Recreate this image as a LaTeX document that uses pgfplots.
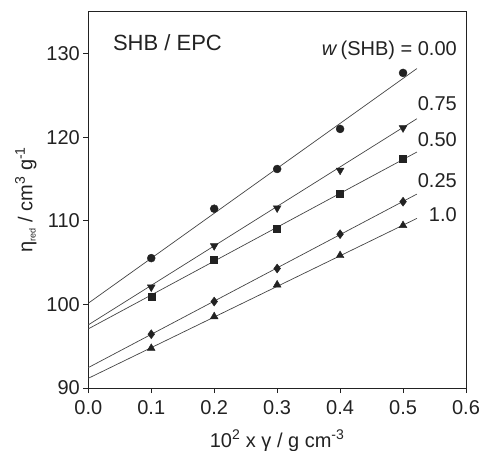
\documentclass[border=0pt]{standalone}
\usepackage{fontspec}
\setmainfont{Liberation Sans}
\usepackage{pgfplots}
\pgfplotsset{compat=1.18}
\definecolor{ink}{HTML}{222222}
\definecolor{fitline}{HTML}{444444}
\begin{document}
\begin{tikzpicture}
  \path[use as bounding box] (-88.3pt,-62pt) rectangle (393.7pt,388pt);
  \begin{axis}[
    at={(0pt,0pt)}, anchor=south west,
    scale only axis,
    width=377.7pt, height=376.3pt,
    xmin=0, xmax=0.6, ymin=90, ymax=135,
    xtick={0,0.1,...,0.6},
    ytick={90,100,...,130},
    xtick pos=left, ytick pos=left,
    tick align=outside,
    major tick length=5pt,
    axis line style={ink, line width=0.8pt},
    tick style={ink, line width=0.8pt},
    xticklabel style={yshift=-4pt, /pgf/number format/.cd, fixed, fixed zerofill, precision=1},
    yticklabel style={/pgf/number format/.cd, fixed},
    /pgf/number format/assume math mode=true,
    tick label style={font=\fontsize{20}{24}\selectfont, text=ink},
    xlabel={10\textsuperscript{2} x γ / g cm\textsuperscript{-3}},
    ylabel={η\textsubscript{\fontsize{9}{10}\selectfont red} / cm\textsuperscript{3} g\textsuperscript{-1}},
    label style={font=\fontsize{20}{24}\selectfont, text=ink},
    xlabel style={at={(axis description cs:0.5,-0.157)}, anchor=base},
    ylabel style={at={(axis description cs:-0.148,0.5)}, anchor=base, rotate=0},
    clip=false,
  ]
    % fitted lines
    \addplot[fitline, line width=0.7pt] coordinates {(0,100.14) (0.522,128.2)};
    \addplot[fitline, line width=0.7pt] coordinates {(0,97.55) (0.522,122.2)};
    \addplot[fitline, line width=0.7pt] coordinates {(0,97.07) (0.522,118.22)};
    \addplot[fitline, line width=0.7pt] coordinates {(0,92.44) (0.522,113.19)};
    \addplot[fitline, line width=0.7pt] coordinates {(0,91.16) (0.522,110.28)};
    % measured points
    \addplot[only marks, mark=*, mark size=4pt, ink] coordinates {
      (0.1,105.53) (0.2,111.44) (0.3,116.19) (0.4,120.98) (0.5,127.68)};
    \addplot[only marks, mark=triangle*, mark size=4.5pt, ink, mark options={rotate=180}] coordinates {
      (0.1,102.06) (0.2,107.0) (0.3,111.52) (0.4,116.03) (0.5,121.1)};
    \addplot[only marks, mark=square*, mark size=3.5pt, ink] coordinates {
      (0.1,100.94) (0.2,105.37) (0.3,109.08) (0.4,113.23) (0.5,117.39)};
    \addplot[only marks, mark=diamond*, mark size=4.5pt, ink] coordinates {
      (0.1,96.43) (0.2,100.34) (0.3,104.29) (0.4,108.40) (0.5,112.28)};
    \addplot[only marks, mark=triangle*, mark size=4.5pt, ink] coordinates {
      (0.1,94.75) (0.2,98.54) (0.3,102.34) (0.4,105.85) (0.5,109.44)};
    % annotations
    \node[anchor=base west, inner sep=0pt, text=ink, font=\fontsize{22}{26}\selectfont] at (axis cs:0.039,130.36) {SHB / EPC};
    \begin{scope}[every node/.style={anchor=base east, inner sep=0pt, text=ink, font=\fontsize{20}{24}\selectfont}]
      \node at (axis cs:0.5857,129.8) {\textit{w}\,(SHB) = 0.00};
      \node at (axis cs:0.5857,123.2) {0.75};
      \node at (axis cs:0.5857,118.9) {0.50};
      \node at (axis cs:0.5857,113.95) {0.25};
      \node at (axis cs:0.5857,109.96) {1.0};
    \end{scope}
  \end{axis}
\end{tikzpicture}
\end{document}
